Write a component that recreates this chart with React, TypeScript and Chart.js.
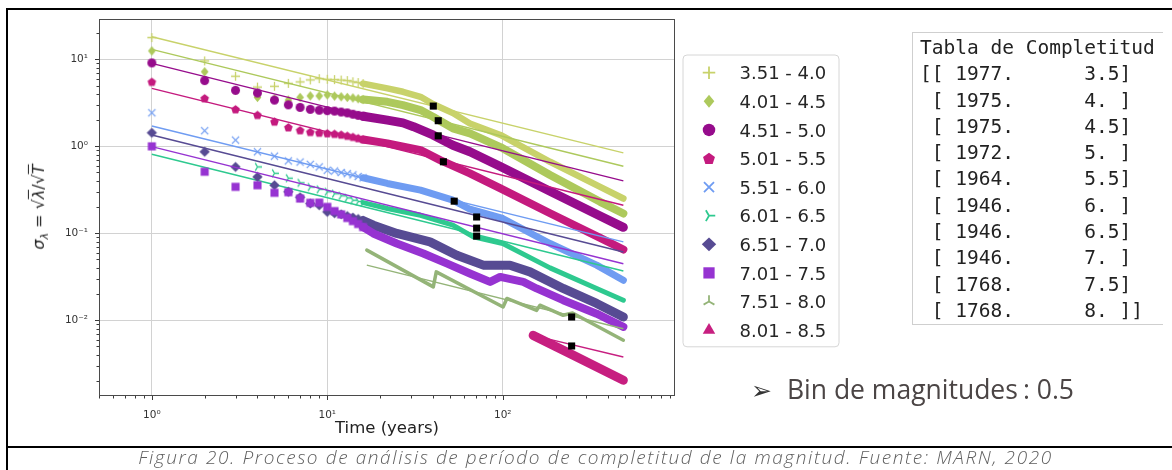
import React, { useEffect, useRef } from "react";
import { Chart, registerables } from "chart.js";

Chart.register(...registerables);

// ---------------- DATA ----------------
const binLabels = [
  "3.51 - 4.0", "4.01 - 4.5", "4.51 - 5.0", "5.01 - 5.5", "5.51 - 6.0",
  "6.01 - 6.5", "6.51 - 7.0", "7.01 - 7.5", "7.51 - 8.0", "8.01 - 8.5",
];

// individual markers for the first years (T = 1..16)
const earlyYears = [1, 2, 3, 4, 5, 6, 7, 8, 9, 10, 11, 12, 13, 14, 15, 16];
const early1 = [17.8, 9.6, 6.4, 4.8, 4.9, 5.3, 5.5, 5.8, 6.0, 5.9, 5.85, 5.78, 5.7, 5.52, 5.41, 5.26];
const early2 = [12.5, 7.2, 4.4, 3.65, 3.5, 3.4, 3.65, 3.8, 3.8, 3.9, 3.78, 3.71, 3.65, 3.6, 3.52, 3.45];
const early3 = [9.1, 5.7, 4.4, 4.1, 3.4, 3.0, 2.8, 2.66, 2.6, 2.57, 2.54, 2.48, 2.42, 2.34, 2.27, 2.22];
const early4 = [5.5, 3.56, 2.66, 2.29, 1.92, 1.65, 1.53, 1.46, 1.43, 1.41, 1.39, 1.36, 1.32, 1.28, 1.24, 1.2];
const early5 = [2.43, 1.51, 1.18, 0.865, 0.77, 0.68, 0.66, 0.62, 0.58, 0.53, 0.52, 0.5, 0.485, 0.47, 0.45, 0.435];
const early6 = [null, null, null, 0.58, 0.49, 0.43, 0.38, 0.34, 0.32, 0.3, 0.285, 0.27, 0.255, 0.24, 0.232, 0.225];
const early7 = [1.43, 0.865, 0.58, 0.445, 0.357, 0.3, 0.26, 0.22, 0.21, 0.176, 0.17, 0.165, 0.158, 0.152, 0.146, 0.14];
const early8 = [1.0, 0.51, 0.342, 0.357, 0.292, 0.297, 0.251, 0.224, 0.225, 0.201, 0.18, 0.165, 0.15, 0.138, 0.128, 0.118];
const early9: (number | null)[] = [];
const early10: (number | null)[] = [];

// dense part of each series (T >= 16), read along the band centre
const band1Years = [16, 22, 27, 34, 40, 52, 65, 97, 186, 359, 487];
const band1Values = [5.26, 4.64, 4.24, 3.71, 3.06, 2.41, 1.83, 1.35, 0.664, 0.342, 0.251];
const band2Years = [16, 22, 27, 34, 40, 52, 65, 97, 186, 359, 487];
const band2Values = [3.45, 3.25, 2.98, 2.61, 2.19, 1.61, 1.41, 0.98, 0.467, 0.23, 0.169];
const band3Years = [16, 22, 27, 31, 40, 52, 65, 97, 186, 359, 487];
const band3Values = [2.22, 2.0, 1.86, 1.68, 1.35, 1.03, 0.865, 0.587, 0.305, 0.158, 0.117];
const band4Years = [16, 22, 34, 44, 65, 97, 186, 359, 487];
const band4Values = [1.2, 1.08, 0.904, 0.694, 0.488, 0.329, 0.17, 0.0885, 0.0651];
const band5Years = [16, 22, 34, 52, 65, 100, 186, 343, 487];
const band5Values = [0.435, 0.374, 0.313, 0.24, 0.189, 0.148, 0.0763, 0.043, 0.0288];
const band6Years = [16, 22, 34, 52, 68, 100, 186, 343, 487];
const band6Values = [0.225, 0.193, 0.161, 0.124, 0.091, 0.0763, 0.04, 0.0232, 0.017];
const band7Years = [16, 18.3, 24.9, 38.5, 54.7, 77.5, 110, 143, 221, 343, 487];
const band7Values = [0.14, 0.124, 0.0995, 0.0796, 0.056, 0.043, 0.043, 0.036, 0.0232, 0.0156, 0.0109];
const band8Years = [16, 18.3, 24.9, 35.3, 47.9, 65, 84.7, 96.7, 131, 156, 221, 343, 487];
const band8Values = [0.118, 0.0995, 0.0763, 0.0586, 0.045, 0.0345, 0.0276, 0.0315, 0.0276, 0.0232, 0.017, 0.0119, 0.00838];
const band9Years = [16.8, 40.2, 41.8, 100.5, 105.6, 156, 163, 221, 250, 487];
const band9Values = [0.064, 0.0242, 0.036, 0.0142, 0.0178, 0.013, 0.0149, 0.0114, 0.0121, 0.00589];
const band10Years = [149, 250, 487];
const band10Values = [0.0067, 0.004, 0.00204];

// fitted 1/sqrt(T) lines (start and end)
const fitStartYears = [1, 1, 1, 1, 1, 1, 1, 1, 16.8, 149];
const fitStartValues = [18.2, 13.0, 9.0, 4.63, 1.71, 0.81, 1.35, 0.99, 0.043, 0.0067];
const fitEndYears = [487, 487, 487, 487, 487, 487, 487, 487, 487, 487];
const fitEndValues = [0.841, 0.59, 0.4, 0.21, 0.0796, 0.0368, 0.061, 0.0447, 0.00798, 0.00378];

// completeness points (black squares)
const completenessYears = [40.2, 42.9, 42.9, 45.9, 52.9, 71, 71, 71, 247, 247];
const completenessValues = [2.9, 1.97, 1.32, 0.664, 0.234, 0.0927, 0.154, 0.1146, 0.0109, 0.00506];

// axes
const xTickValues = [1, 10, 100];
const xTickLabels = ["10⁰", "10¹", "10²"];
const yTickValues = [0.01, 0.1, 1, 10];
const yTickLabels = ["10⁻²", "10⁻¹", "10⁰", "10¹"];
const xRange = [0.5, 959];
const yRange = [0.001346, 29.1];

// completeness table
const tableYears = [1977, 1975, 1975, 1972, 1964, 1946, 1946, 1946, 1768, 1768];
const tableMagnitudes = ["3.5", "4. ", "4.5", "5. ", "5.5", "6. ", "6.5", "7. ", "7.5", "8. "];

// ---------------- STYLES ----------------
type MarkerKind =
  | "plus" | "diamond" | "circle" | "pentagon" | "x"
  | "triRight" | "diamondWide" | "square" | "triUp" | "triangle";

const seriesColors = [
  "#c8d26a", "#adc95c", "#960c8c", "#c41a7e", "#6f9cf2",
  "#2ec98f", "#574b93", "#9633d1", "#94b478", "#c71f80",
];
const seriesMarkers: MarkerKind[] = [
  "plus", "diamond", "circle", "pentagon", "x",
  "triRight", "diamondWide", "square", "triUp", "triangle",
];
const bandWidths = [6.5, 8, 9, 8, 7, 5, 9, 8, 3.5, 9];
const earlySeries = [early1, early2, early3, early4, early5, early6, early7, early8, early9, early10];
const bandYears = [band1Years, band2Years, band3Years, band4Years, band5Years, band6Years, band7Years, band8Years, band9Years, band10Years];
const bandValues = [band1Values, band2Values, band3Values, band4Values, band5Values, band6Values, band7Values, band8Values, band9Values, band10Values];

function drawMarker(
  ctx: CanvasRenderingContext2D, kind: MarkerKind, cx: number, cy: number, s: number, color: string
) {
  const r = s / 2;
  ctx.save();
  ctx.fillStyle = color;
  ctx.strokeStyle = color;
  ctx.lineWidth = Math.max(1.2, s / 7);
  ctx.beginPath();
  const poly = (pts: [number, number][]) => {
    pts.forEach(([px, py], i) => (i === 0 ? ctx.moveTo(px, py) : ctx.lineTo(px, py)));
    ctx.closePath();
    ctx.fill();
  };
  const spokes = (angles: number[]) => {
    angles.forEach((a) => {
      ctx.moveTo(cx, cy);
      ctx.lineTo(cx + Math.cos(a) * r, cy + Math.sin(a) * r);
    });
    ctx.stroke();
  };
  switch (kind) {
    case "plus":
      ctx.moveTo(cx - r, cy); ctx.lineTo(cx + r, cy);
      ctx.moveTo(cx, cy - r); ctx.lineTo(cx, cy + r);
      ctx.stroke();
      break;
    case "x": {
      const d = r * 0.8;
      ctx.moveTo(cx - d, cy - d); ctx.lineTo(cx + d, cy + d);
      ctx.moveTo(cx + d, cy - d); ctx.lineTo(cx - d, cy + d);
      ctx.stroke();
      break;
    }
    case "diamond":
      poly([[cx, cy - r * 1.05], [cx + r * 0.85, cy], [cx, cy + r * 1.05], [cx - r * 0.85, cy]]);
      break;
    case "diamondWide":
      poly([[cx, cy - r * 1.1], [cx + r * 1.15, cy], [cx, cy + r * 1.1], [cx - r * 1.15, cy]]);
      break;
    case "circle":
      ctx.arc(cx, cy, r, 0, Math.PI * 2);
      ctx.fill();
      break;
    case "pentagon": {
      const pts: [number, number][] = [];
      for (let k = 0; k < 5; k++) {
        const a = -Math.PI / 2 + (k * 2 * Math.PI) / 5;
        pts.push([cx + Math.cos(a) * r, cy + Math.sin(a) * r + r * 0.08]);
      }
      poly(pts);
      break;
    }
    case "triRight":
      spokes([0, (2 * Math.PI) / 3, (4 * Math.PI) / 3]);
      break;
    case "triUp":
      spokes([-Math.PI / 2, Math.PI / 6, (5 * Math.PI) / 6]);
      break;
    case "square": {
      const h = r * 0.9;
      ctx.rect(cx - h, cy - h, 2 * h, 2 * h);
      ctx.fill();
      break;
    }
    case "triangle": {
      const t = r * 1.15;
      poly([[cx, cy - t], [cx + t * 0.866, cy + t * 0.5], [cx - t * 0.866, cy + t * 0.5]]);
      break;
    }
  }
  ctx.restore();
}

function makeMarkerImage(kind: MarkerKind, s: number, color: string) {
  const size = Math.ceil(s * 1.6) + 2;
  const c = document.createElement("canvas");
  c.width = size;
  c.height = size;
  const g = c.getContext("2d");
  if (g) drawMarker(g, kind, size / 2, size / 2, s, color);
  return c;
}

function logTicks(min: number, max: number) {
  const out: { value: number; major: boolean }[] = [];
  for (let e = Math.floor(Math.log10(min)); e <= Math.ceil(Math.log10(max)); e++) {
    for (let m = 1; m <= 9; m++) {
      const v = m * Math.pow(10, e);
      if (v >= min * 0.9999 && v <= max * 1.0001) out.push({ value: v, major: m === 1 });
    }
  }
  return out;
}

function labelFor(v: number, values: number[], labels: string[]) {
  for (let i = 0; i < values.length; i++) {
    if (Math.abs(Math.log10(v) - Math.log10(values[i])) < 1e-6) return labels[i];
  }
  return "";
}

const frameAndTicksPlugin = {
  id: "frameAndTicks",
  afterDraw(chart: any) {
    const { ctx, chartArea: a, scales } = chart;
    ctx.save();
    ctx.strokeStyle = "#3a3a3a";
    ctx.lineWidth = 1;
    for (const t of scales.x.ticks) {
      const px = Math.round(scales.x.getPixelForValue(t.value)) + 0.5;
      const len = t.major ? 4 : 2.5;
      ctx.beginPath();
      ctx.moveTo(px, a.bottom);
      ctx.lineTo(px, a.bottom + len);
      ctx.stroke();
    }
    for (const t of scales.y.ticks) {
      const py = Math.round(scales.y.getPixelForValue(t.value)) + 0.5;
      const len = t.major ? 4 : 2.5;
      ctx.beginPath();
      ctx.moveTo(a.left, py);
      ctx.lineTo(a.left - len, py);
      ctx.stroke();
    }
    ctx.strokeStyle = "#4a4a4a";
    ctx.strokeRect(Math.round(a.left) + 0.5, Math.round(a.top) + 0.5,
      Math.round(a.right - a.left) - 1, Math.round(a.bottom - a.top) - 1);
    ctx.restore();
  },
};

const binLegendPlugin = {
  id: "binLegend",
  afterDraw(chart: any) {
    const { ctx, chartArea: a } = chart;
    const left = a.right + 8;
    const top = a.top + 36;
    const width = 156;
    const pitch = 28.6;
    const first = 17.7;
    const height = first + pitch * (binLabels.length - 1) + 16.7;
    ctx.save();
    const rad = 4;
    ctx.beginPath();
    ctx.moveTo(left + rad, top);
    ctx.lineTo(left + width - rad, top);
    ctx.quadraticCurveTo(left + width, top, left + width, top + rad);
    ctx.lineTo(left + width, top + height - rad);
    ctx.quadraticCurveTo(left + width, top + height, left + width - rad, top + height);
    ctx.lineTo(left + rad, top + height);
    ctx.quadraticCurveTo(left, top + height, left, top + height - rad);
    ctx.lineTo(left, top + rad);
    ctx.quadraticCurveTo(left, top, left + rad, top);
    ctx.closePath();
    ctx.fillStyle = "rgba(255,255,255,0.85)";
    ctx.fill();
    ctx.strokeStyle = "#d6d6d6";
    ctx.lineWidth = 1;
    ctx.stroke();
    ctx.font = "18px 'DejaVu Sans'";
    ctx.fillStyle = "#262626";
    ctx.textBaseline = "alphabetic";
    ctx.textAlign = "left";
    binLabels.forEach((label, i) => {
      const cy = top + first + pitch * i;
      drawMarker(ctx, seriesMarkers[i], left + 26, cy, 12.5, seriesColors[i]);
      ctx.fillText(label, left + 56.5, cy + 6.6);
    });
    ctx.restore();
  },
};

function buildDatasets() {
  const seq: any[] = [];
  for (let i = 0; i < binLabels.length; i++) {
    const color = seriesColors[i];
    seq.push({
      label: binLabels[i] + " band",
      data: bandYears[i].map((t, k) => ({ x: t, y: bandValues[i][k] })),
      showLine: true,
      borderColor: color,
      backgroundColor: color,
      borderWidth: bandWidths[i],
      borderCapStyle: "round",
      borderJoinStyle: "round",
      pointRadius: 0,
      fill: false,
    });
    const early = earlySeries[i]
      .map((v, k) => ({ x: earlyYears[k], y: v }))
      .filter((p) => p.y !== null && p.y !== undefined);
    if (early.length) {
      seq.push({
        label: binLabels[i],
        data: early,
        showLine: false,
        pointStyle: makeMarkerImage(seriesMarkers[i], 9, color),
        pointRadius: 4,
        borderColor: color,
        backgroundColor: color,
      });
    }
    seq.push({
      label: binLabels[i] + " fit",
      data: [
        { x: fitStartYears[i], y: fitStartValues[i] },
        { x: fitEndYears[i], y: fitEndValues[i] },
      ],
      showLine: true,
      borderColor: color,
      borderWidth: 1.4,
      pointRadius: 0,
      fill: false,
    });
  }
  seq.push({
    label: "Completitud",
    data: completenessYears.map((t, k) => ({ x: t, y: completenessValues[k] })),
    showLine: false,
    pointStyle: "rect",
    pointRadius: 5,
    backgroundColor: "#000",
    borderColor: "#000",
    borderWidth: 0,
  });
  return seq.map((d, k) => ({ ...d, order: seq.length - k }));
}

function ChartCanvas() {
  const ref = useRef<HTMLCanvasElement | null>(null);
  useEffect(() => {
    if (!ref.current) return;
    const tickFont = { family: "'DejaVu Sans'", size: 10.5 };
    const chart = new Chart(ref.current, {
      type: "scatter",
      data: { datasets: buildDatasets() },
      plugins: [frameAndTicksPlugin, binLegendPlugin],
      options: {
        responsive: false,
        animation: false,
        devicePixelRatio: 1,
        events: [],
        layout: { padding: { left: 0, top: 19, right: 497, bottom: 0 } },
        plugins: { legend: { display: false }, tooltip: { enabled: false } },
        scales: {
          x: {
            type: "logarithmic",
            min: xRange[0],
            max: xRange[1],
            afterBuildTicks: (scale: any) => { scale.ticks = logTicks(xRange[0], xRange[1]); },
            afterFit: (scale: any) => { scale.height = 49; },
            border: { display: false },
            grid: {
              drawTicks: false,
              lineWidth: 1,
              color: (c: any) => (c.tick && c.tick.major ? "#d2d2d2" : "rgba(0,0,0,0)"),
            },
            ticks: {
              autoSkip: false,
              maxRotation: 0,
              padding: 12.5,
              color: "#333",
              font: tickFont,
              callback: (v: any) => labelFor(Number(v), xTickValues, xTickLabels),
            },
            title: {
              display: true,
              text: "Time (years)",
              color: "#222",
              font: { family: "'DejaVu Sans'", size: 16.5 },
              padding: { top: 0, bottom: 6.6 },
            },
          },
          y: {
            type: "logarithmic",
            min: yRange[0],
            max: yRange[1],
            afterBuildTicks: (scale: any) => { scale.ticks = logTicks(yRange[0], yRange[1]); },
            afterFit: (scale: any) => { scale.width = 99; },
            border: { display: false },
            grid: {
              drawTicks: false,
              lineWidth: 1,
              color: (c: any) => (c.tick && c.tick.major ? "#d2d2d2" : "rgba(0,0,0,0)"),
            },
            ticks: {
              autoSkip: false,
              padding: 11,
              color: "#333",
              font: tickFont,
              callback: (v: any) => labelFor(Number(v), yTickValues, yTickLabels),
            },
          },
        },
      } as any,
    });
    return () => chart.destroy();
  }, []);
  return (
    <canvas
      ref={ref}
      width={1172}
      height={445}
      style={{ position: "absolute", left: 0, top: 0, width: 1172, height: 445, display: "block" }}
    />
  );
}

export default function App() {
  const tableRows = tableYears.map((y, i) => {
    const open = i === 0 ? "[[ " : " [ ";
    const close = i === tableYears.length - 1 ? "]]" : "]";
    return open + y + ".      " + tableMagnitudes[i] + close;
  });
  const over = { textDecoration: "overline" as const };
  return (
    <div>
      {/* frame lines */}
      <div style={{ position: "absolute", left: 6, top: 8, width: 1166, height: 2, background: "#000" }} />
      <div style={{ position: "absolute", left: 6, top: 8, width: 2, height: 462, background: "#000" }} />
      <div style={{ position: "absolute", left: 6, top: 446, width: 1166, height: 2, background: "#000" }} />

      <ChartCanvas />

      {/* y axis title */}
      <div
        style={{
          position: "absolute", left: 40, top: 207,
          transform: "translate(-50%, -50%) rotate(-90deg)",
          whiteSpace: "nowrap", fontFamily: "'DejaVu Sans'", fontSize: 16, color: "#222",
        }}
      >
        <i>σ</i><sub style={{ fontSize: 11 }}><i>λ</i></sub> = √<span style={over}><i>λ</i></span>/√<span style={over}><i>T</i></span>
      </div>

      {/* completeness table */}
      <div
        style={{
          position: "absolute", left: 912, top: 32, width: 251, height: 293,
          borderLeft: "1px solid #cfcfcf", borderTop: "1px solid #cfcfcf", borderBottom: "1px solid #cfcfcf",
          boxSizing: "border-box",
        }}
      />
      <pre
        style={{
          position: "absolute", left: 920, top: 35, margin: 0,
          fontFamily: "'DejaVu Sans Mono', monospace", fontSize: 19.5, lineHeight: "26.3px", color: "#222",
        }}
      >
        {["Tabla de Completitud", ...tableRows].join("\n")}
      </pre>

      {/* bin note */}
      <div
        style={{
          position: "absolute", left: 751, top: 371, lineHeight: "36px", whiteSpace: "nowrap",
          fontFamily: "'Open Sans'", fontSize: 26.5, color: "#4b4545",
        }}
      >
        <span style={{ fontFamily: "'DejaVu Sans'", fontSize: 25, color: "#333", marginRight: 15 }}>➢</span>
        Bin de magnitudes<span style={{ marginLeft: 5 }}>: 0.5</span>
      </div>

      {/* caption */}
      <div
        style={{
          position: "absolute", left: 0, width: 1191, top: 446, textAlign: "center", whiteSpace: "nowrap",
          fontFamily: "'Open Sans'", fontStyle: "italic", fontWeight: 300, fontSize: 19, lineHeight: "23px",
          letterSpacing: 1.6, color: "#5e5e5e",
        }}
      >
        Figura 20. Proceso de análisis de período de completitud de la magnitud. Fuente: MARN, 2020
      </div>
    </div>
  );
}
